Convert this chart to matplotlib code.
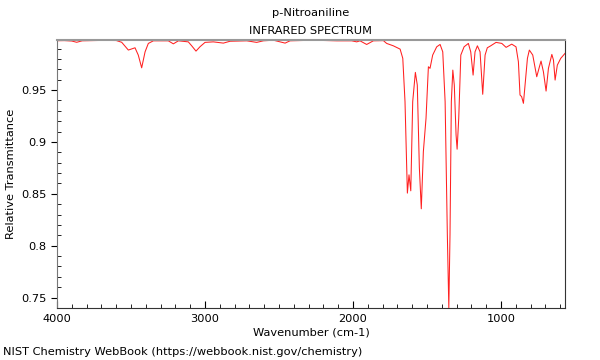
import matplotlib
matplotlib.use("Agg")
import matplotlib.pyplot as plt
from matplotlib.ticker import MultipleLocator

# wavenumber (cm-1) and relative transmittance
wavenumber = [
    4000, 3950, 3900, 3867, 3830, 3700, 3600, 3563, 3518, 3473, 3451, 3428,
    3405, 3383, 3349, 3248, 3214, 3180, 3113, 3090, 3061, 3034, 3000, 2944,
    2876, 2831, 2718, 2651, 2606, 2538, 2459, 2426, 2268, 2110, 2009, 1975,
    1953, 1908, 1863, 1795, 1773, 1728, 1682, 1664, 1649, 1633, 1622, 1610,
    1597, 1579, 1566, 1552, 1539, 1525, 1507, 1491, 1480, 1462, 1435, 1412,
    1394, 1378, 1363, 1353, 1345, 1336, 1326, 1316, 1304, 1297, 1286, 1272,
    1250, 1221, 1205, 1189, 1176, 1160, 1142, 1124, 1108, 1093, 1070, 1034,
    995, 966, 928, 899, 883, 872, 861, 849, 838, 822, 809, 786, 759, 741,
    730, 714, 696, 680, 657, 646, 635, 620, 597, 568,
]
transmittance = [
    0.9975, 0.9976, 0.9972, 0.9960, 0.9974, 0.9978, 0.9977, 0.9960, 0.9885,
    0.9907, 0.9837, 0.9714, 0.9868, 0.9949, 0.9974, 0.9974, 0.9945, 0.9974,
    0.9964, 0.9926, 0.9875, 0.9917, 0.9959, 0.9964, 0.9952, 0.9970, 0.9974,
    0.9959, 0.9974, 0.9980, 0.9952, 0.9974, 0.9980, 0.9974, 0.9974, 0.9964,
    0.9974, 0.9939, 0.9974, 0.9976, 0.9949, 0.9926, 0.9894, 0.9805, 0.9388,
    0.8507, 0.8683, 0.8529, 0.9388, 0.9670, 0.9548, 0.8750, 0.8356, 0.8907,
    0.9228, 0.9724, 0.9709, 0.9837, 0.9916, 0.9939, 0.9868, 0.9388, 0.8106,
    0.7400, 0.8106, 0.9388, 0.9692, 0.9548, 0.9067, 0.8930, 0.9228, 0.9837,
    0.9916, 0.9949, 0.9868, 0.9644, 0.9868, 0.9926, 0.9868, 0.9459, 0.9837,
    0.9907, 0.9926, 0.9959, 0.9949, 0.9911, 0.9942, 0.9916, 0.9772, 0.9452,
    0.9436, 0.9372, 0.9548, 0.9805, 0.9885, 0.9837, 0.9628, 0.9724, 0.9779,
    0.9676, 0.9490, 0.9709, 0.9843, 0.9788, 0.9596, 0.9740, 0.9805, 0.9853,
]

fs = 8.2

fig = plt.figure(figsize=(6, 3.6), dpi=100)
ax = fig.add_axes([0.095, 0.1444, 0.8467, 0.7445])

ax.plot(wavenumber, transmittance, color='#ff2020', linewidth=0.75)

ax.set_xlim(4000, 568)
ax.set_ylim(0.740, 0.9982)

ax.xaxis.set_major_locator(MultipleLocator(1000))
ax.xaxis.set_minor_locator(MultipleLocator(100))
ax.yaxis.set_minor_locator(MultipleLocator(0.01))
ax.set_yticks([0.75, 0.8, 0.85, 0.9, 0.95])
ax.set_yticklabels(['0.75', '0.8', '0.85', '0.9', '0.95'])

ax.tick_params(axis='x', which='major', direction='in', length=5, labelsize=fs, pad=4)
ax.tick_params(axis='x', which='minor', direction='in', length=3)
ax.tick_params(axis='y', which='major', direction='out', length=4, labelsize=fs)
ax.tick_params(axis='y', which='minor', direction='in', length=3)

ax.spines['top'].set_color('#999999')
ax.spines['top'].set_linewidth(1.5)
ax.spines['left'].set_color('#777777')
ax.spines['right'].set_color('#333333')
ax.spines['bottom'].set_color('#333333')

ax.set_xlabel('Wavenumber (cm-1)', fontsize=fs, labelpad=3)
ax.set_ylabel('Relative Transmittance', fontsize=fs, labelpad=4)

fig.text(0.518, 0.963, 'p-Nitroaniline', ha='center', va='center', fontsize=fs)
fig.text(0.518, 0.915, 'INFRARED SPECTRUM', ha='center', va='center', fontsize=fs)
fig.text(0.005, 0.022, 'NIST Chemistry WebBook (https://webbook.nist.gov/chemistry)',
         ha='left', va='center', fontsize=fs)

fig.savefig('out.png', dpi=100)
